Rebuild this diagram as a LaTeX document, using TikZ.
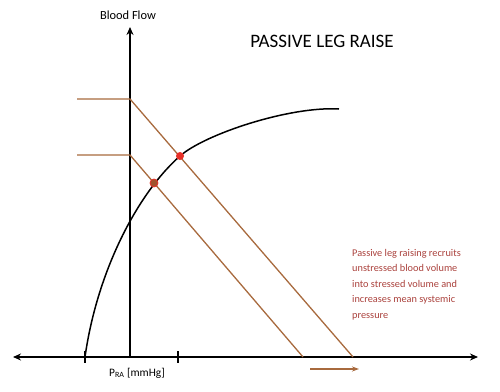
\documentclass[tikz,border=0pt]{standalone}
\usepackage{fontspec}
\setmainfont{Carlito}
\usepackage{xcolor}
\usepackage{tikz}
\usetikzlibrary{arrows.meta, positioning, calc}
\definecolor{shiftline}{RGB}{168,106,62}
\definecolor{noteclr}{RGB}{170,65,60}
\definecolor{dotred}{RGB}{232,48,40}
\definecolor{dotbrown}{RGB}{160,82,45}

\begin{document}
\begin{tikzpicture}[x=1pt, y=-1pt, every node/.style={font=\fontsize{10.3}{15.5}\selectfont},
    axis/.style={black, line width=1.5pt},
    venous/.style={shiftline, line width=1.3pt},
    dot/.style={circle, inner sep=0pt, minimum size=8pt}]
  \useasboundingbox (0,0) rectangle (500,391);
  % axes
  \coordinate (o) at (130,357);
  \coordinate (xl) at (13,357);
  \coordinate (xr) at (478,357);
  \coordinate (yt) at (130,27);
  \draw[axis, -{Stealth[length=8pt, width=7pt]}] (o) -- (xl);
  \draw[axis, -{Stealth[length=8pt, width=7pt]}] (o) -- (xr);
  \draw[axis, -{Stealth[length=8pt, width=7pt]}] (o) -- (yt);
  \foreach \tx in {85,178}
    \draw[axis, line width=1.2pt] (\tx,351) -- (\tx,363);
  \node[font=\fontsize{12.4}{15}\selectfont] (flow) at (128,15) {Blood Flow};
  \node[font=\fontsize{11.4}{14}\selectfont] (pra) at (137,373) {P\textsubscript{RA} [mmHg]};
  \node[font=\fontsize{19}{22}\selectfont] (title) at (322,41) {PASSIVE LEG RAISE};

  % cardiac function curve
  \draw[black, line width=1.5pt] (85,357) .. controls (97,272) and (137,194) .. (180,156)
    .. controls (205,134) and (290,106) .. (339,109);

  % venous return lines
  \coordinate (hiL) at (77,99);
  \coordinate (hiA) at (130,99);
  \coordinate (hiE) at (353,357);
  \coordinate (loL) at (77,155);
  \coordinate (loA) at (130,155);
  \coordinate (loE) at (303,357);
  \draw[venous] (hiL) -- (hiA) -- (hiE);
  \draw[venous] (loL) -- (loA) -- (loE);

  \node[dot, fill=dotred] (newpt) at (180,156) {};
  \node[dot, fill=dotbrown, draw=dotred, line width=0.8pt] (oldpt) at (154,183) {};

  % shift arrow
  \coordinate (sa) at (310,369);
  \coordinate (sb) at (359,369);
  \draw[venous, -{Stealth[length=7pt, width=5pt]}] (sa) -- (sb);

  \node[anchor=north west, inner sep=0pt, align=left, text=noteclr] (note) at (352,249)
    {Passive leg raising recruits\\unstressed blood volume\\into stressed volume and\\increases mean systemic\\pressure};
\end{tikzpicture}
\end{document}
